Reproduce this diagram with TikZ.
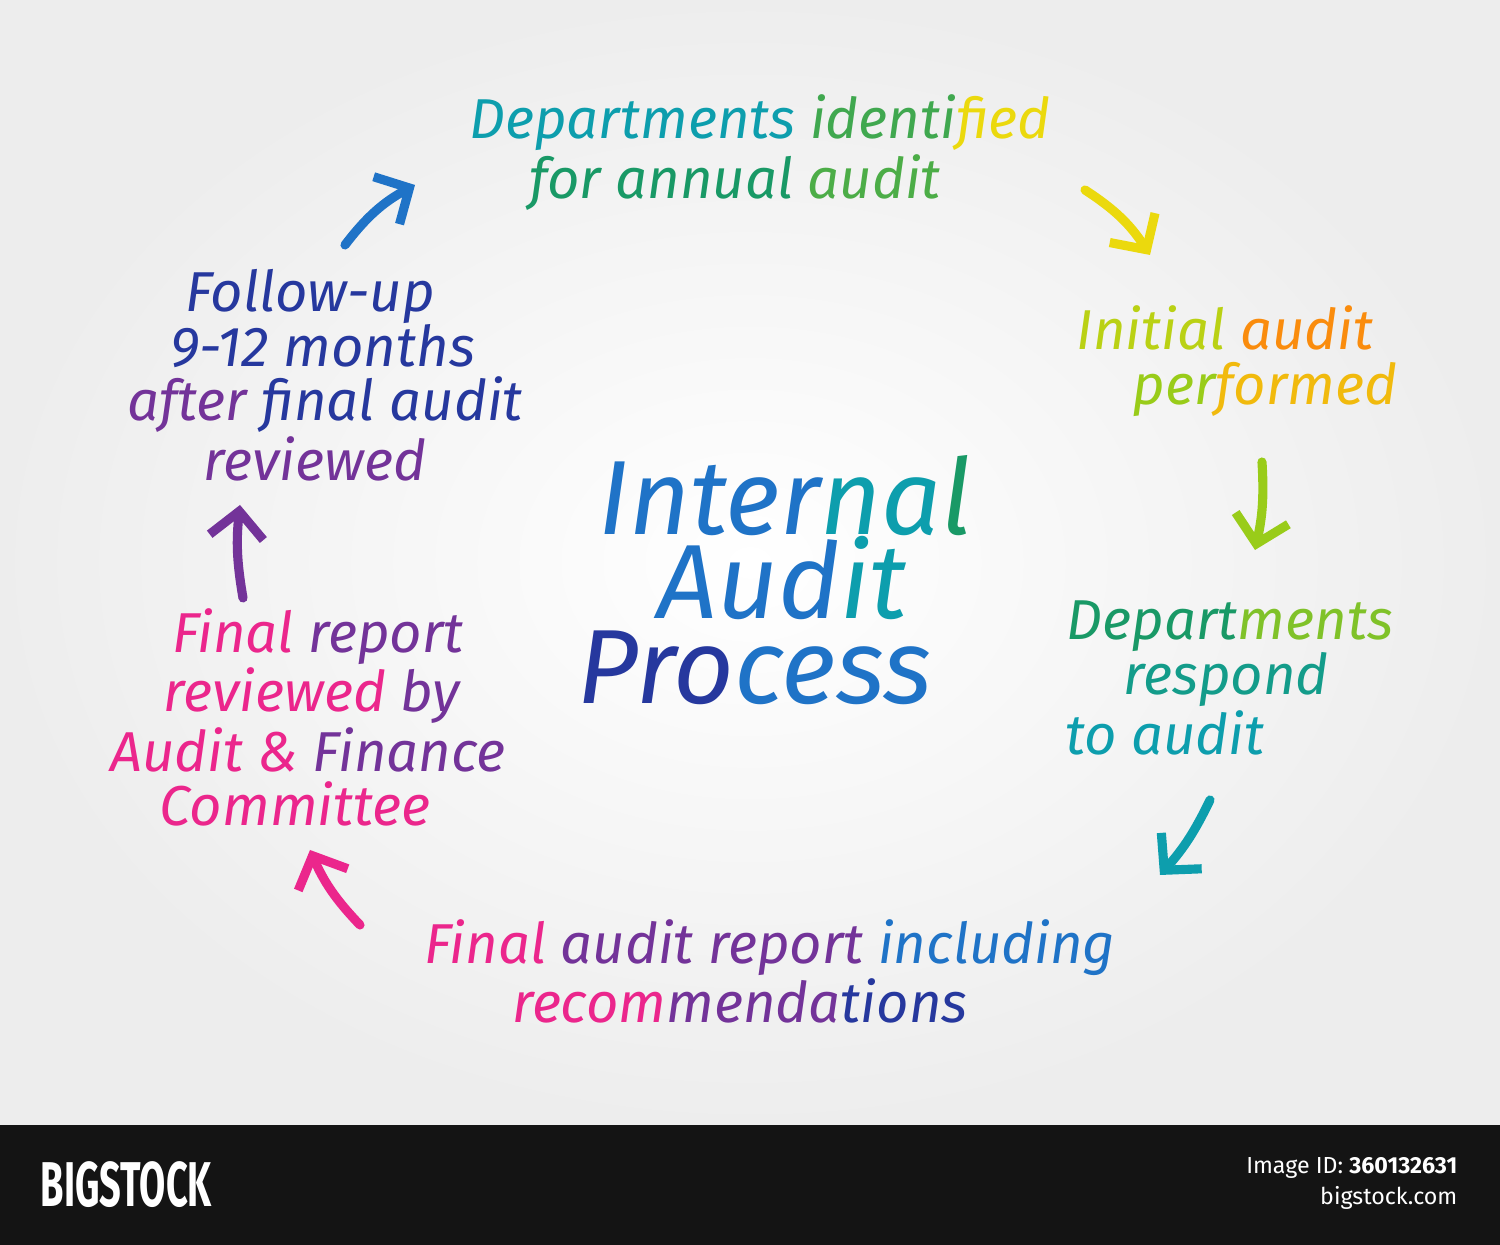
\documentclass[tikz,border=0pt]{standalone}
\usepackage{fontspec}
\setmainfont{Fira Sans}
\usetikzlibrary{arrows.meta,positioning}
\definecolor{cteal}{rgb}{0.05, 0.62, 0.68}
\definecolor{cgreen}{rgb}{0.1, 0.6, 0.4}
\definecolor{clime}{rgb}{0.6, 0.8, 0.1}
\definecolor{cyellow}{rgb}{0.92, 0.85, 0.05}
\definecolor{corange}{rgb}{0.98, 0.55, 0.05}
\definecolor{cblue}{rgb}{0.12, 0.45, 0.78}
\definecolor{cnavy}{rgb}{0.15, 0.22, 0.62}
\definecolor{cpurple}{rgb}{0.45, 0.2, 0.6}
\definecolor{cpink}{rgb}{0.92, 0.15, 0.55}
% shift one line of a centred block sideways
\newcommand{\nudge}[2]{\hspace*{#1}#2\hspace*{-#1}}
\tikzset{
	steptext/.style={
		font=\itshape\fontsize{16}{15.6}\selectfont,
		align=center,
		inner sep=0pt,
		anchor=center
	},
	titletext/.style={
		font=\itshape\fontsize{30}{24.1}\selectfont,
		align=center,
		inner sep=0pt,
		anchor=center
	},
	foottext/.style={
		anchor=east,
		text=white,
		font=\fontsize{6.6}{8}\selectfont,
		inner sep=0pt
	},
	flow/.style={
		line width=2.6pt,
		line cap=round,
		line join=round,
		-{Straight Barb[length=2.6mm,width=5.4mm,line width=2.6pt]}
	},
}

\begin{document}
\begin{tikzpicture}
	\useasboundingbox (0,0) rectangle (15,12.45);
	\shade[inner color=white,outer color=gray!14] (0,1.2) rectangle (15,12.45);
	\fill[black!92] (0,0) rectangle (15,1.2);

	% centre
	\node[titletext] (title) at (7.75,6.65) {%
		\nudge{0.1cm}{\textcolor{cblue}{Inter}\textcolor{cteal}{na}\textcolor{cgreen}{l}}\\
		\nudge{0.15cm}{\textcolor{cblue}{Aud}\textcolor{cteal}{it}}\\
		\nudge{-0.2cm}{\textcolor{cnavy}{Pro}\textcolor{cblue}{cess}}};

	% steps
	\node[steptext] (ident) at (7.48,10.925) {%
		\nudge{0.12cm}{\textcolor{cteal}{Departments} \textcolor{cgreen!70!clime}{identi}\textcolor{cyellow}{fied}}\\
		\nudge{-0.13cm}{\textcolor{cgreen}{for annual} \textcolor{cgreen!60!clime}{audit}}};

	\node[steptext] (initial) at (12.45,8.835) {%
		\nudge{-0.2cm}{\textcolor{clime!60!cyellow}{Initial} \textcolor{corange}{audit}}\\
		\nudge{0.2cm}{\textcolor{clime}{per}\textcolor{cyellow!60!corange}{formed}}};

	\node[steptext] (respond) at (12.12,5.67) {%
		\nudge{0.18cm}{\textcolor{cgreen}{Depart}\textcolor{clime!80!cgreen}{ments}}\\
		\nudge{0.28cm}{\textcolor{cteal!50!cgreen}{respond}}\\
		\nudge{-0.47cm}{\textcolor{cteal}{to audit}}};

	\node[steptext] (report) at (7.55,2.735) {%
		\nudge{0.15cm}{\textcolor{cpink}{Final} \textcolor{cpurple}{audit report} \textcolor{cblue}{including}}\\
		\nudge{-0.15cm}{\textcolor{cpink}{recom}\textcolor{cpurple}{menda}\textcolor{cnavy}{tions}}};

	\node[steptext] (committee) at (3.09,5.275) {%
		\nudge{0.09cm}{\textcolor{cpink}{Final} \textcolor{cpurple}{report}}\\
		\nudge{0.06cm}{\textcolor{cpink}{reviewed} \textcolor{cpurple}{by}}\\
		\nudge{-0.02cm}{\textcolor{cpink}{Audit \&} \textcolor{cpurple}{Finance}}\\
		\nudge{-0.14cm}{\textcolor{cpink}{Committee}}};

	\node[steptext] (followup) at (3.2,8.7) {%
		\nudge{-0.1cm}{\textcolor{cnavy}{Follow-up}}\\
		\nudge{0.05cm}{\textcolor{cnavy}{9-12 months}}\\
		\nudge{0.1cm}{\textcolor{cpurple}{after} \textcolor{cnavy}{final audit}}\\
		\nudge{-0.05cm}{\textcolor{cpurple}{reviewed}}};

	% arrow ends
	\coordinate (a1s) at (3.45,10.0);
	\coordinate (a1e) at (4.15,10.6);
	\coordinate (a2s) at (10.85,10.55);
	\coordinate (a2e) at (11.5,9.9);
	\coordinate (a3s) at (12.62,7.83);
	\coordinate (a3e) at (12.55,6.95);
	\coordinate (a4s) at (12.1,4.45);
	\coordinate (a4e) at (11.6,3.7);
	\coordinate (a5s) at (3.6,3.2);
	\coordinate (a5e) at (3.1,3.95);
	\coordinate (a6s) at (2.43,6.47);
	\coordinate (a6e) at (2.4,7.4);

	\draw[flow,cblue] (a1s) to[bend left=12] (a1e);
	\draw[flow,cyellow] (a2s) to[bend left=12] (a2e);
	\draw[flow,clime] (a3s) to[bend left=8] (a3e);
	\draw[flow,cteal] (a4s) to[bend left=8] (a4e);
	\draw[flow,cpink] (a5s) to[bend left=10] (a5e);
	\draw[flow,cpurple] (a6s) to[bend left=8] (a6e);

	% footer
	\node[anchor=west,text=white,font=\bfseries\fontsize{18}{20}\selectfont,inner sep=0pt] (brand) at (0.4,0.6) {\scalebox{0.6}[1]{BIGSTOCK}};
	\node[foottext] (imgid) at (14.58,0.77) {Image ID: \textbf{360132631}};
	\node[foottext] (site) at (14.58,0.47) {bigstock.com};
\end{tikzpicture}
\end{document}
